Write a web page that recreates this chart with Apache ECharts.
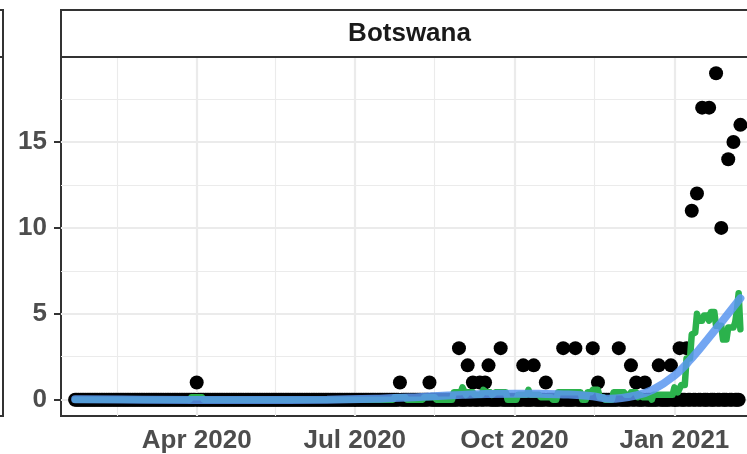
<!DOCTYPE html>
<html><head><meta charset="utf-8">
<script src="https://cdn.jsdelivr.net/npm/echarts@6/dist/echarts.min.js"></script>
<style>html,body{margin:0;padding:0;background:#ffffff}#c{width:747px;height:454px}</style>
</head><body><div id="c"></div>
<script>
// ---- data ----
const firstDate = '2020-01-22';
const lastDate = '2021-02-08';
// days with a non-zero count (every other day in the range is 0)
const deathDates = ['2020-04-01','2020-07-27','2020-08-13','2020-08-30','2020-09-04','2020-09-07','2020-09-11','2020-09-14','2020-09-16','2020-09-23',
  '2020-10-06','2020-10-12','2020-10-19','2020-10-29','2020-11-05','2020-11-15','2020-11-18','2020-11-30','2020-12-07','2020-12-10',
  '2020-12-15','2020-12-23','2020-12-30','2021-01-04','2021-01-08','2021-01-11','2021-01-14','2021-01-17','2021-01-21','2021-01-25',
  '2021-01-28','2021-02-01','2021-02-04','2021-02-08'];
const deathValues = [1,1,1,3,2,1,1,1,2,3, 2,2,1,3,3,3,1,3,2,1, 1,2,2,3,3,11,12,17,17,19, 10,14,15,16];

// green rolling average: plateaus (start, end, value)
const avgStart = ['2020-01-22','2020-03-29','2020-04-05','2020-07-24','2020-07-31','2020-08-10','2020-08-17','2020-08-27','2020-09-01','2020-09-03',
  '2020-09-04','2020-09-08','2020-09-13','2020-09-15','2020-09-18','2020-09-20','2020-09-27','2020-10-03','2020-10-09','2020-10-10',
  '2020-10-16','2020-10-23','2020-10-26','2020-11-09','2020-11-12','2020-11-15','2020-11-19','2020-11-22','2020-11-27','2020-12-04',
  '2020-12-07','2020-12-11','2020-12-12','2020-12-14','2020-12-19','2020-12-20','2021-01-01','2021-01-03','2021-01-05','2021-01-08',
  '2021-01-11','2021-01-12','2021-01-14','2021-01-15','2021-01-18','2021-01-21','2021-01-22','2021-01-25','2021-01-29','2021-02-01',
  '2021-02-05','2021-02-06','2021-02-07','2021-02-08'];
const avgEnd = ['2020-03-28','2020-04-04','2020-07-23','2020-07-30','2020-08-09','2020-08-16','2020-08-26','2020-08-31','2020-09-02','2020-09-03',
  '2020-09-07','2020-09-12','2020-09-14','2020-09-17','2020-09-19','2020-09-26','2020-10-02','2020-10-08','2020-10-09','2020-10-15',
  '2020-10-22','2020-10-25','2020-11-08','2020-11-11','2020-11-14','2020-11-18','2020-11-21','2020-11-26','2020-12-03','2020-12-06',
  '2020-12-10','2020-12-11','2020-12-13','2020-12-18','2020-12-19','2020-12-31','2021-01-02','2021-01-04','2021-01-07','2021-01-10',
  '2021-01-11','2021-01-13','2021-01-14','2021-01-17','2021-01-20','2021-01-21','2021-01-24','2021-01-28','2021-01-31','2021-02-04',
  '2021-02-05','2021-02-06','2021-02-07','2021-02-08'];
const avgValues = [0,0.143,0,0.143,0,0.143,0,0.429,0.714,0.286,
  0.429,0.286,0.571,0.429,0.286,0.429,0,0.286,0.571,0.286,
  0.143,0,0.429,0,0.429,0.571,0.143,0,0.429,0.286,
  0.429,0.143,0.286,0.143,0,0.286,0.714,0.429,0.857,2.4,
  3.8,3.9,5.0,4.6,4.9,4.6,5.1,4.3,3.5,4.2,
  4.5,5.2,6.2,4.1];

// blue smooth trend
const smoothDates = ['2020-01-22','2020-03-01','2020-05-01','2020-06-15','2020-07-15','2020-08-01','2020-08-15','2020-09-01','2020-09-15','2020-10-01',
  '2020-10-15','2020-11-01','2020-11-15','2020-11-25','2020-12-10','2020-12-20','2021-01-01','2021-01-10','2021-01-20','2021-01-28','2021-02-08'];
const smoothValues = [0.02,0.0,-0.02,0.0,0.06,0.12,0.2,0.28,0.33,0.35,
  0.34,0.3,0.2,0.05,0.25,0.6,1.4,2.3,3.5,4.5,5.9];

const xTickDates = ['2020-04-01','2020-07-01','2020-10-01','2021-01-01'];
const xMinorDates = ['2020-02-15T12:00','2020-05-16T12:00','2020-08-16T00:00','2020-11-16T00:00','2021-02-15T12:00'];
const yTicks = [0,5,10,15];
const yMinor = [2.5,7.5,12.5,17.5];
const monthNames = ['Jan','Feb','Mar','Apr','May','Jun','Jul','Aug','Sep','Oct','Nov','Dec'];
const stripLabel = 'Botswana';

// ---- build tables ----
function t(s){ return Date.parse(s.length === 10 ? s + 'T00:00:00Z' : s + 'Z'); }
const dayMs = 86400000;
const lookup = {};
deathDates.forEach((d, i) => { lookup[d] = deathValues[i]; });
const points = [];
for (let x = t(firstDate); x <= t(lastDate); x += dayMs) {
  const key = new Date(x).toISOString().slice(0, 10);
  points.push([x, lookup[key] || 0]);
}
const avgLine = [];
avgStart.forEach((s, i) => {
  avgLine.push([t(s), avgValues[i]]);
  if (avgEnd[i] !== s) avgLine.push([t(avgEnd[i]), avgValues[i]]);
});
const smoothLine = smoothDates.map((d, i) => [t(d), smoothValues[i]]);
const xTicks = xTickDates.map(t);

const font = "'Liberation Sans', Arial, Helvetica, sans-serif";
const gridMajor = { color: '#EBEBEB', width: 2.2, type: 'solid' };
const gridMinor = { color: '#EBEBEB', width: 1.1, type: 'solid' };
const markData = []
  .concat(yMinor.map(v => ({ yAxis: v, lineStyle: gridMinor })))
  .concat(xMinorDates.map(d => ({ xAxis: t(d), lineStyle: gridMinor })))
  .concat(yTicks.map(v => ({ yAxis: v, lineStyle: gridMajor })))
  .concat(xTicks.map(v => ({ xAxis: v, lineStyle: gridMajor })));

const chart = echarts.init(document.getElementById('c'), null, { renderer: 'canvas' });
chart.setOption({
  animation: false,
  backgroundColor: '#ffffff',
  grid: { left: 61, top: 57, width: 697, height: 359, show: true, borderColor: '#333333', borderWidth: 2, backgroundColor: 'transparent',
          containLabel: false, outerBoundsMode: 'none' },
  xAxis: {
    type: 'value',
    min: t('2020-01-13T21:07'),
    max: t('2021-02-18T03:22'),
    axisLine: { show: false },
    splitLine: { show: false },
    minorSplitLine: { show: false },
    axisTick: { show: true, customValues: xTicks, length: 7, lineStyle: { color: '#333333', width: 2 } },
    axisLabel: {
      customValues: xTicks,
      formatter: function (v) { const d = new Date(v); return monthNames[d.getUTCMonth()] + ' ' + d.getUTCFullYear(); },
      fontSize: 26, fontWeight: 'bold', color: '#4D4D4D', fontFamily: font, margin: 12
    }
  },
  yAxis: {
    type: 'value',
    min: -0.95,
    max: 19.95,
    axisLine: { show: false },
    splitLine: { show: false },
    minorSplitLine: { show: false },
    axisTick: { show: true, customValues: yTicks, length: 7, lineStyle: { color: '#333333', width: 2 } },
    axisLabel: { customValues: yTicks, fontSize: 26, fontWeight: 'bold', color: '#4D4D4D', fontFamily: font, margin: 14 }
  },
  series: [
    { type: 'line', data: [], z: 0, silent: true,
      markLine: { z: 0, symbol: 'none', silent: true, animation: false, label: { show: false }, data: markData } },
    { type: 'scatter', data: points, symbol: 'circle', symbolSize: 14, itemStyle: { color: '#000000', opacity: 1 }, z: 2, silent: true },
    { type: 'line', data: avgLine, showSymbol: false, symbol: 'none', lineStyle: { color: '#2BB24C', width: 6.5, cap: 'round', join: 'round' }, z: 3, silent: true },
    { type: 'line', data: smoothLine, smooth: 0.4, showSymbol: false, symbol: 'none', lineStyle: { color: 'rgb(90,150,240)', opacity: 0.85, width: 8, cap: 'round' }, z: 4, silent: true }
  ],
  graphic: [
    { type: 'rect', z: 100, shape: { x: 61, y: 10, width: 697, height: 47 }, style: { fill: '#ffffff', stroke: '#333333', lineWidth: 2 } },
    { type: 'text', z: 101, x: 409.5, y: 34, style: { text: stripLabel, fontSize: 26, fontWeight: 'bold', fontFamily: font, fill: '#1A1A1A', align: 'center', verticalAlign: 'middle' } },
    { type: 'rect', z: 100, shape: { x: -60, y: 10, width: 63, height: 47 }, style: { fill: '#ffffff', stroke: '#333333', lineWidth: 2 } },
    { type: 'rect', z: 100, shape: { x: -60, y: 57, width: 63, height: 359 }, style: { fill: 'none', stroke: '#333333', lineWidth: 2 } }
  ]
});
</script>
</body></html>
